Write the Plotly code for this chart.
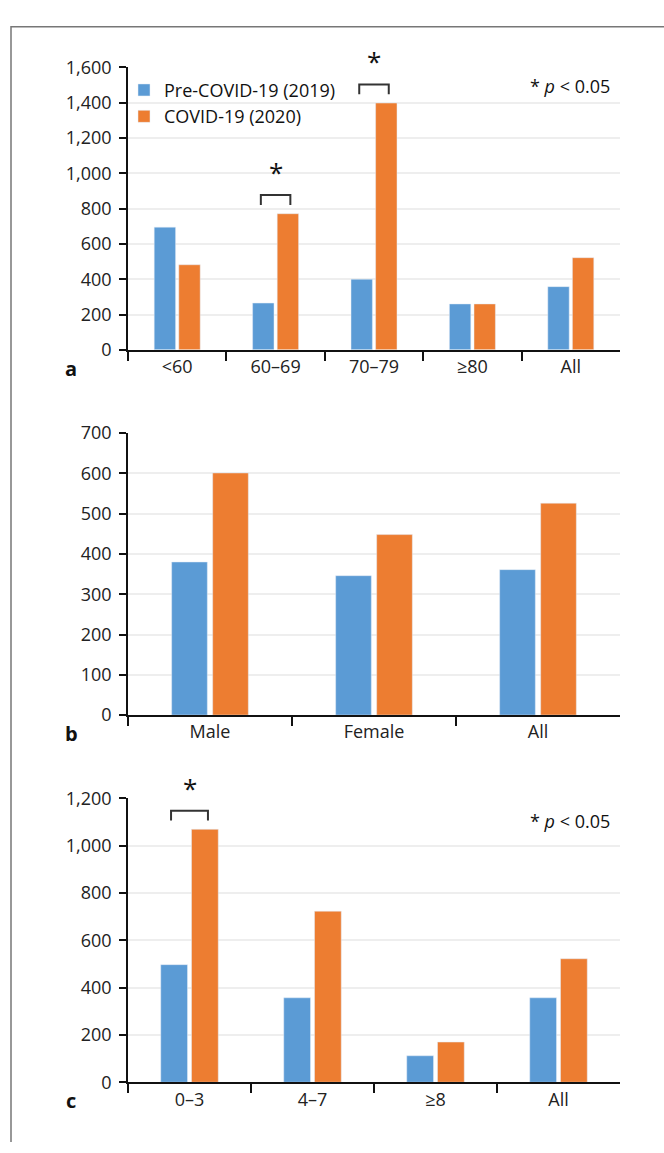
import plotly.graph_objects as go

W, H = 664, 1153

# ---- data ----
age_cats = ["<60", "60–69", "70–79", "≥80", "All"]
age_pre = [695, 265, 400, 260, 358]
age_covid = [482, 771, 1398, 260, 522]

sex_cats = ["Male", "Female", "All"]
sex_pre = [380, 346, 361]
sex_covid = [601, 448, 526]

cci_cats = ["0–3", "4–7", "≥8", "All"]
cci_pre = [497, 357, 112, 357]
cci_covid = [1069, 723, 170, 522]

series_names = ["Pre-COVID-19 (2019)", "COVID-19 (2020)"]
BLUE = "#5b9bd5"
ORANGE = "#ed7d31"

# significant comparisons (category index) per panel
sig_a = [1, 2]
sig_c = [0]

# ---- layout geometry (pixels) ----
X_LEFT, X_RIGHT = 128, 620
panels = [
    dict(top=55.5, bottom=344, rng=1600, dtick=200, cats=age_cats, pre=age_pre, cov=age_covid, sig=sig_a, letter="a"),
    dict(top=429, bottom=717, rng=700, dtick=100, cats=sex_cats, pre=sex_pre, cov=sex_covid, sig=[], letter="b"),
    dict(top=802, bottom=1092, rng=1200, dtick=200, cats=cci_cats, pre=cci_pre, cov=cci_covid, sig=sig_c, letter="c"),
]

FONT = "Open Sans"
fig = go.Figure()
shapes = []
annotations = []

def py(y):
    return 1 - y / H

def px(x):
    return x / W

for k, p in enumerate(panels):
    sfx = "" if k == 0 else str(k + 1)
    xa, ya = "x" + sfx, "y" + sfx
    fig.add_trace(go.Bar(x=p["cats"], y=p["pre"], name=series_names[0], marker_color=BLUE,
                         xaxis=xa, yaxis=ya, showlegend=(k == 0), legendrank=1))
    fig.add_trace(go.Bar(x=p["cats"], y=p["cov"], name=series_names[1], marker_color=ORANGE,
                         xaxis=xa, yaxis=ya, showlegend=(k == 0), legendrank=2))
    ax = dict(
        domain=[px(X_LEFT), px(X_RIGHT)], anchor=ya, type="category",
        showline=True, linecolor="#111", linewidth=1.5,
        ticks="outside", tickson="boundaries", ticklen=9, tickwidth=1.5, tickcolor="#111",
        showgrid=False, tickfont=dict(family=FONT, size=18, color="#222"),
    )
    ay = dict(
        domain=[py(p["bottom"]), py(p["top"])], anchor=xa, range=[0, p["rng"]],
        tickmode="linear", tick0=0, dtick=p["dtick"], tickformat=",d",
        showline=True, linecolor="#111", linewidth=1.5,
        ticks="outside", ticklen=7, tickwidth=1.5, tickcolor="#111",
        showgrid=True, gridcolor="#eeeeee", gridwidth=1.5, zeroline=False,
        tickfont=dict(family=FONT, size=18, color="#222"), ticklabelstandoff=4,
    )
    fig.layout["xaxis" + sfx] = ax
    fig.layout["yaxis" + sfx] = ay

    # units per pixel for this panel
    upp = p["rng"] / (p["bottom"] - p["top"])
    for i in p["sig"]:
        base = max(p["pre"][i], p["cov"][i]) + 9 * upp
        top = base + 10 * upp
        x0, x1 = i - 0.15, i + 0.15
        shapes.append(dict(type="path", xref=xa, yref=ya,
                           path=f"M {x0},{base} L {x0},{top} L {x1},{top} L {x1},{base}",
                           line=dict(color="#333", width=2)))
        annotations.append(dict(x=i, y=top + 3 * upp, xref=xa, yref=ya, text="*",
                                showarrow=False, yanchor="bottom",
                                font=dict(family=FONT, size=26, color="#111")))
    # panel letter
    annotations.append(dict(x=px(71), y=py(p["bottom"] + 19), xref="paper", yref="paper",
                            text="<b>" + p["letter"] + "</b>", showarrow=False,
                            xanchor="center", yanchor="middle",
                            font=dict(family=FONT, size=20, color="#111")))

# p-value notes
for yy in (75, 825):
    annotations.append(dict(x=px(612), y=py(yy), xref="paper", yref="paper",
                            text="* <i>p</i> < 0.05", showarrow=False,
                            xanchor="right", yanchor="middle",
                            font=dict(family=FONT, size=18, color="#111")))

# frame
shapes.append(dict(type="path", xref="paper", yref="paper",
                   path=f"M {px(11)},0 L {px(11)},{py(14)} L 1,{py(14)}",
                   line=dict(color="#777", width=1.5)))

fig.update_layout(
    width=W, height=H, margin=dict(l=0, r=0, t=0, b=0),
    paper_bgcolor="white", plot_bgcolor="white",
    barmode="group", bargap=0.5, bargroupgap=0.13,
    shapes=shapes, annotations=annotations,
    legend=dict(x=px(124), y=py(60), xanchor="left", yanchor="top",
                bgcolor="rgba(0,0,0,0)", font=dict(family=FONT, size=18, color="#111"),
                itemwidth=30, tracegroupgap=0),
    font=dict(family=FONT),
)

fig.write_html("out.html", config={"displayModeBar": False},
               post_script="document.body.style.margin='0';document.body.style.overflow='hidden';")
